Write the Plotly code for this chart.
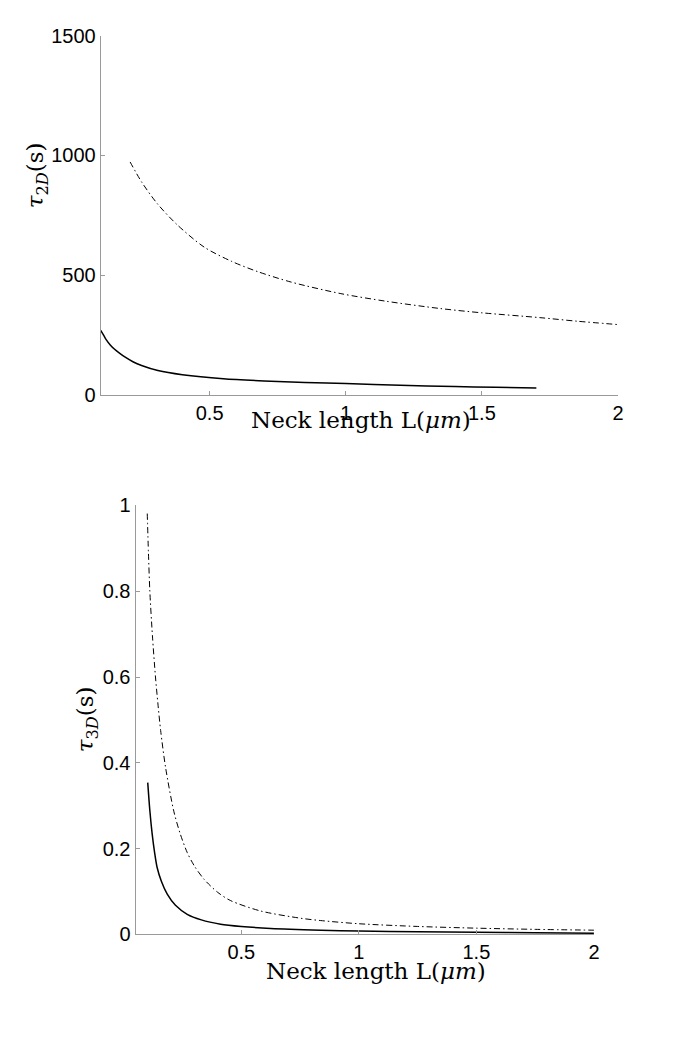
import plotly.graph_objects as go

# ---- data ----
# Top panel: tau_2D (s) vs neck length L (um)
top_solid_x = [0.10, 0.111, 0.12, 0.135, 0.15, 0.17, 0.19, 0.22, 0.25, 0.31, 0.40, 0.55, 0.70, 0.85, 1.0, 1.2, 1.4, 1.55, 1.70]
top_solid_y = [271, 250, 232, 210, 193, 175, 159, 139, 124.5, 103.5, 86, 69, 60, 54, 49, 42, 36.5, 33.5, 30.5]

top_dash_x = [0.208, 0.25, 0.308, 0.38, 0.48, 0.58, 0.676, 0.8, 0.982, 1.15, 1.346, 1.5, 1.713, 1.85, 2.0]
top_dash_y = [973, 890, 799, 712, 618, 559, 516, 472, 424, 392, 362, 344, 324, 309, 295]

# Bottom panel: tau_3D (s) vs neck length L (um)
bot_solid_x = [0.102, 0.111, 0.121, 0.131, 0.142, 0.16, 0.185, 0.22, 0.27, 0.33, 0.412, 0.50, 0.625, 0.838, 1.0, 1.25, 1.5, 1.75, 2.0]
bot_solid_y = [0.354, 0.289, 0.234, 0.192, 0.156, 0.124, 0.094, 0.068, 0.047, 0.034, 0.024, 0.0187, 0.014, 0.010, 0.008, 0.0063, 0.005, 0.004, 0.003]

bot_dash_x = [0.100, 0.105, 0.111, 0.122, 0.135, 0.145, 0.157, 0.178, 0.213, 0.24, 0.27, 0.30, 0.341, 0.40, 0.455, 0.583, 0.753, 0.838, 1.0, 1.25, 1.5, 1.75, 2.0]
bot_dash_y = [0.981, 0.89, 0.80, 0.696, 0.60, 0.540, 0.475, 0.389, 0.287, 0.235, 0.191, 0.160, 0.129, 0.098, 0.0788, 0.0546, 0.0378, 0.0324, 0.025, 0.0187, 0.0147, 0.0119, 0.010]

top_yticks = [0, 500, 1000, 1500]
bot_yticks = [0, 0.2, 0.4, 0.6, 0.8, 1]
bot_yticktext = ["0", "0.2", "0.4", "0.6", "0.8", "1"]
xticks = [0.5, 1, 1.5, 2]
xticktext = ["0.5", "1", "1.5", "2"]

W, H = 685, 1057

fig = go.Figure()
DASHDOT = "6px,3px,1.5px,3px"
fig.add_trace(go.Scatter(x=top_solid_x, y=top_solid_y, mode="lines", line=dict(color="black", width=1.5, shape="spline", smoothing=0.8), xaxis="x", yaxis="y"))
fig.add_trace(go.Scatter(x=top_dash_x, y=top_dash_y, mode="lines", line=dict(color="black", width=1, dash=DASHDOT, shape="spline", smoothing=0.8), xaxis="x", yaxis="y"))
fig.add_trace(go.Scatter(x=bot_solid_x, y=bot_solid_y, mode="lines", line=dict(color="black", width=1.5, shape="spline", smoothing=0.8), xaxis="x2", yaxis="y2"))
fig.add_trace(go.Scatter(x=bot_dash_x, y=bot_dash_y, mode="lines", line=dict(color="black", width=1, dash=DASHDOT, shape="spline", smoothing=0.8), xaxis="x2", yaxis="y2"))

axis_common = dict(showgrid=False, zeroline=False, showline=True, linecolor="#9a9a9a", linewidth=1,
                   ticks="inside", ticklen=4, tickcolor="#9a9a9a", tickwidth=1,
                   tickfont=dict(family="Liberation Sans, Arial, sans-serif", size=20, color="black"))

def px_x(p):
    return p / W

def px_y(p):
    return 1 - p / H

fig.update_layout(
    width=W, height=H, margin=dict(l=0, r=0, t=0, b=0),
    paper_bgcolor="white", plot_bgcolor="white", showlegend=False,
    xaxis=dict(domain=[px_x(101.6), px_x(623.5)], range=[0.1, 2], tickvals=xticks, ticktext=xticktext, anchor="y", **axis_common),
    yaxis=dict(domain=[px_y(392.5), px_y(25.1)], range=[0, 1500], tickvals=top_yticks, anchor="x", **axis_common),
    xaxis2=dict(domain=[px_x(136.7), px_x(599.2)], range=[0.05, 2], tickvals=xticks, ticktext=xticktext, anchor="y2", **axis_common),
    yaxis2=dict(domain=[px_y(943.1), px_y(504.9)], range=[0, 1], tickvals=bot_yticks, ticktext=bot_yticktext, anchor="x2", **axis_common),
)

serif = "DejaVu Serif, Liberation Serif, serif"
xtitle = "Neck length L(<i>μm</i>)"
ann = [
    dict(text=xtitle, x=px_x(364), y=px_y(418), xref="paper", yref="paper", showarrow=False,
         font=dict(family=serif, size=23, color="black"), xanchor="center", yanchor="middle"),
    dict(text=xtitle, x=px_x(379), y=px_y(980), xref="paper", yref="paper", showarrow=False,
         font=dict(family=serif, size=23, color="black"), xanchor="center", yanchor="middle"),
    dict(text="<i>τ</i><sub>2<i>D</i></sub>(s)", x=px_x(37), y=px_y(168), xref="paper", yref="paper", showarrow=False,
         textangle=-90, font=dict(family=serif, size=23, color="black"), xanchor="center", yanchor="middle"),
    dict(text="<i>τ</i><sub>3<i>D</i></sub>(s)", x=px_x(88), y=px_y(723), xref="paper", yref="paper", showarrow=False,
         textangle=-90, font=dict(family=serif, size=23, color="black"), xanchor="center", yanchor="middle"),
]
fig.update_layout(annotations=ann)

fig.write_html("out.html", config={"displayModeBar": False},
               post_script="document.body.style.margin='0px';")
